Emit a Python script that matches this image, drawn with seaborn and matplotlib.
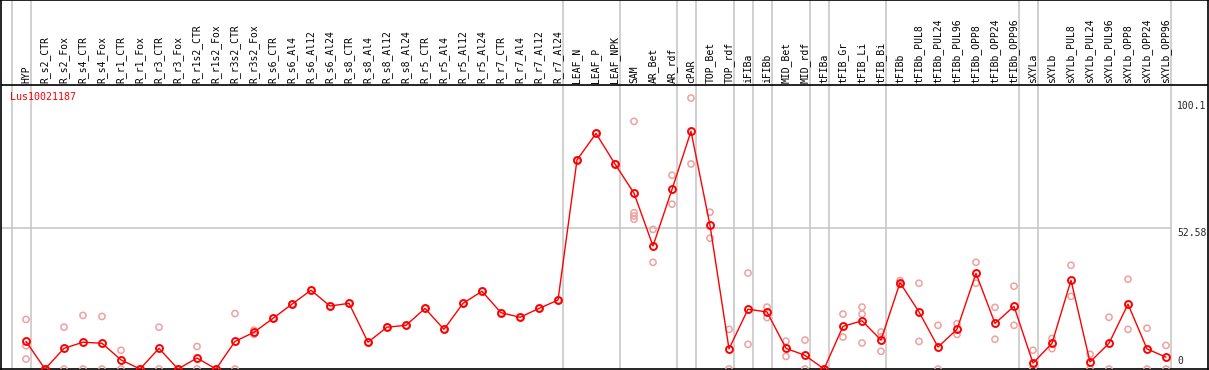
import numpy as np
import pandas as pd
import matplotlib
matplotlib.use('Agg')
import matplotlib.pyplot as plt
import seaborn as sns

# 样本名称（表头）
samples = ['HYP', 'R_s2_CTR', 'R_s2_Fox', 'R_s4_CTR', 'R_s4_Fox', 'R_r1_CTR', 'R_r1_Fox',
           'R_r3_CTR', 'R_r3_Fox', 'R_r1s2_CTR', 'R_r1s2_Fox', 'R_r3s2_CTR', 'R_r3s2_Fox',
           'R_s6_CTR', 'R_s6_Al4', 'R_s6_Al12', 'R_s6_Al24', 'R_s8_CTR', 'R_s8_Al4',
           'R_s8_Al12', 'R_s8_Al24', 'R_r5_CTR', 'R_r5_Al4', 'R_r5_Al12', 'R_r5_Al24',
           'R_r7_CTR', 'R_r7_Al4', 'R_r7_Al12', 'R_r7_Al24', 'LEAF_N', 'LEAF_P', 'LEAF_NPK',
           'SAM', 'AR_Bet', 'AR_rdf', 'cPAR', 'TOP_Bet', 'TOP_rdf', 'iFIBa', 'iFIBb',
           'MID_Bet', 'MID_rdf', 'tFIBa', 'tFIB_Gr', 'tFIB_Li', 'tFIB_Bi', 'tFIBb',
           'tFIBb_PUL8', 'tFIBb_PUL24', 'tFIBb_PUL96', 'tFIBb_OPP8', 'tFIBb_OPP24',
           'tFIBb_OPP96', 'sXYLa', 'sXYLb', 'sXYLb_PUL8', 'sXYLb_PUL24', 'sXYLb_PUL96',
           'sXYLb_OPP8', 'sXYLb_OPP24', 'sXYLb_OPP96']

# 平均表达量
mean_expr = [10.3, 0, 7.7, 10.0, 9.6, 3.4, 0, 7.7, 0, 4.1, 0, 10.3, 13.7,
             18.9, 24.2, 29.4, 23.5, 24.5, 10.0, 15.6, 16.3, 22.6, 14.8, 24.5, 29.0,
             21.0, 19.3, 22.6, 25.7, 78.0, 87.9, 76.5,
             65.6, 45.9, 67.0, 88.7, 53.6, 7.5, 22.3, 21.3,
             7.7, 5.1, 0, 15.9, 18.0, 10.8, 32.2,
             21.3, 8.2, 14.8, 35.7, 17.0, 23.4,
             2.2, 9.6, 33.1, 2.6, 9.6, 24.2, 7.5, 4.4]

# 各重复的表达量
rep_expr = [[18.5, 8.7, 3.7], [0, 0], [15.6, 0], [20.0, 0], [19.6, 0], [7.0, 0], [0, 0],
            [15.6, 0], [0, 0], [8.4, 0], [0, 0], [20.7, 0], [12.9, 14.5],
            [18.9], [24.2], [29.4], [23.5], [24.5], [10.0], [15.6], [16.3], [22.6],
            [14.8], [24.5], [29.0], [21.0], [19.3], [22.6], [25.7], [78.0], [87.9], [76.5],
            [92.4, 58.3, 57.1, 55.9], [52.1, 39.8], [72.3, 61.5], [101.1, 76.5],
            [58.5, 48.8], [14.8, 0], [35.8, 9.2], [23.1, 19.2],
            [10.4, 4.7], [10.8, 0], [0, 0], [20.5, 11.9], [23.1, 20.5, 9.7],
            [13.8, 12.0, 6.6], [33.0, 31.5],
            [32.0, 10.3], [16.3, 0], [16.9, 12.9], [39.8, 32.0], [23.0, 11.1], [30.9, 16.3],
            [7.0, 0, 0], [11.4, 7.6], [38.7, 27.1], [5.5, 0], [19.3, 0], [33.5, 14.8],
            [15.2, 0], [8.8, 0]]

# 分组分隔线所在的样本序号（在该样本之后）
sep_after = [-1, 0, 28, 31, 34, 35, 37, 38, 39, 41, 42, 45, 52, 53, 60]
ytick_vals = [100.1, 52.58, 0]
gene = 'Lus10021187'

df_mean = pd.DataFrame({'idx': np.arange(len(samples)), 'expr': mean_expr})
rows = []
for i, reps in enumerate(rep_expr):
    for v in reps:
        rows.append((i, v))
df_rep = pd.DataFrame(rows, columns=['idx', 'expr'])

sns.set_style('white')
plt.rcParams['font.family'] = ['DejaVu Sans Mono']

W, H = 1209, 370
fig = plt.figure(figsize=(W / 100, H / 100), dpi=100)
ax = fig.add_axes([1 / W, 1 / H, 1207 / W, 1 - 1 / H])

# 像素坐标换算：列间距19px，首列在x=26；y方向 2.68px/单位，0在y=369
px_per_col = 19.0
x0 = 26.0
ppu = 2.68
ax.set_xlim((1 - x0) / px_per_col, (1208 - x0) / px_per_col)
ax.set_ylim(0, 369 / ppu)
header_y = (369 - 85) / ppu

for s in ax.spines.values():
    s.set_color('black')
    s.set_linewidth(1.2)
ax.set_xticks([])
ax.set_yticks([])

grey = '#c4c4c4'
for k in sep_after:
    ax.axvline(k + 0.25, color=grey, lw=1.1, zorder=1)
ax.hlines(52.58, ax.get_xlim()[0], 60.25, color=grey, lw=1.1, zorder=1)
ax.axhline(header_y, color='black', lw=1.2, zorder=2)

sns.scatterplot(data=df_rep, x='idx', y='expr', ax=ax, marker='o', s=20,
                facecolors='none', edgecolor='#f0a0a0', linewidth=1.1, zorder=3, legend=False)
sns.lineplot(data=df_mean, x='idx', y='expr', ax=ax, color='red', lw=1.0, zorder=4,
             marker='o', markersize=5, markerfacecolor='none', markeredgecolor='red',
             markeredgewidth=1.4, legend=False)
ax.set_xlabel('')
ax.set_ylabel('')

for i, name in enumerate(samples):
    ax.text(i, header_y + 2 / ppu, name, rotation=90, ha='center', va='bottom',
            fontsize=7, color='black')

ax.text((10 - x0) / px_per_col, header_y - 7 / ppu, gene, ha='left', va='top',
        fontsize=7.2, color='red')

for v in ytick_vals:
    if v == 0:
        ax.text((1177 - x0) / px_per_col, v + 3 / ppu, '0', ha='left', va='bottom', fontsize=7)
    else:
        ax.text((1177 - x0) / px_per_col, v, str(v), ha='left', va='top', fontsize=7)

fig.savefig('out.png', dpi=100)
